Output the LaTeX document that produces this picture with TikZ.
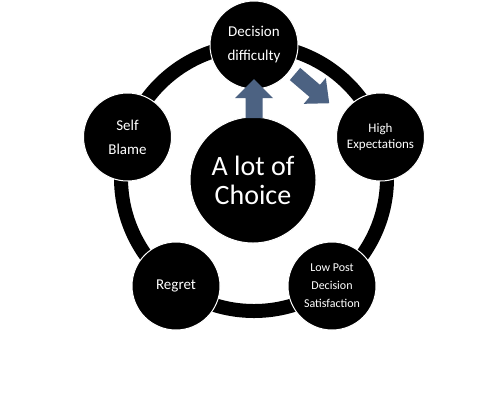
\documentclass[tikz,border=0pt]{standalone}
\usepackage{fontspec}
\setmainfont{Carlito}
\definecolor{arrowblue}{RGB}{76,98,130}
\begin{document}
\begin{tikzpicture}[x=1pt,y=-1pt,
  stage/.style={circle,fill=black,draw=white,line width=1pt,minimum size=88pt,inner sep=0pt,text=white,align=center},
  hub/.style={stage,minimum size=126pt},
  blockarrow/.style={fill=arrowblue}]
\fill[white] (0,0) rectangle (494,400);
\useasboundingbox (0,0) rectangle (494,400);
\coordinate (c) at (254,178);
\draw[line width=14pt] (c) circle[radius=133pt];
\node[stage,font=\fontsize{15pt}{24pt}\selectfont] (dd) at (254,45) {Decision\\difficulty};
\node[stage,font=\fontsize{13pt}{16pt}\selectfont] (he) at (380.5,137) {High\\Expectations};
\node[stage,font=\fontsize{12pt}{18pt}\selectfont] (lp) at (332,286) {Low Post\\Decision\\Satisfaction};
\node[stage,font=\fontsize{15pt}{24pt}\selectfont] (rg) at (176,286) {Regret};
\node[stage,font=\fontsize{15pt}{24pt}\selectfont] (sb) at (127.5,137) {Self\\Blame};
\node[hub,font=\fontsize{28pt}{29pt}\selectfont] (ch) at (253,180) {A lot of\\Choice};
\begin{scope}[shift={(254,118)},rotate=90]
  \fill[blockarrow] (0,-8.5) -- (20,-8.5) -- (20,-19) -- (39,0) -- (20,19) -- (20,8.5) -- (0,8.5) -- cycle;
\end{scope}
\begin{scope}[shift={(295,74)},rotate=-40.5]
  \fill[blockarrow] (0,-8) -- (26,-8) -- (26,-17) -- (45,0) -- (26,17) -- (26,8) -- (0,8) -- cycle;
\end{scope}
\end{tikzpicture}
\end{document}
